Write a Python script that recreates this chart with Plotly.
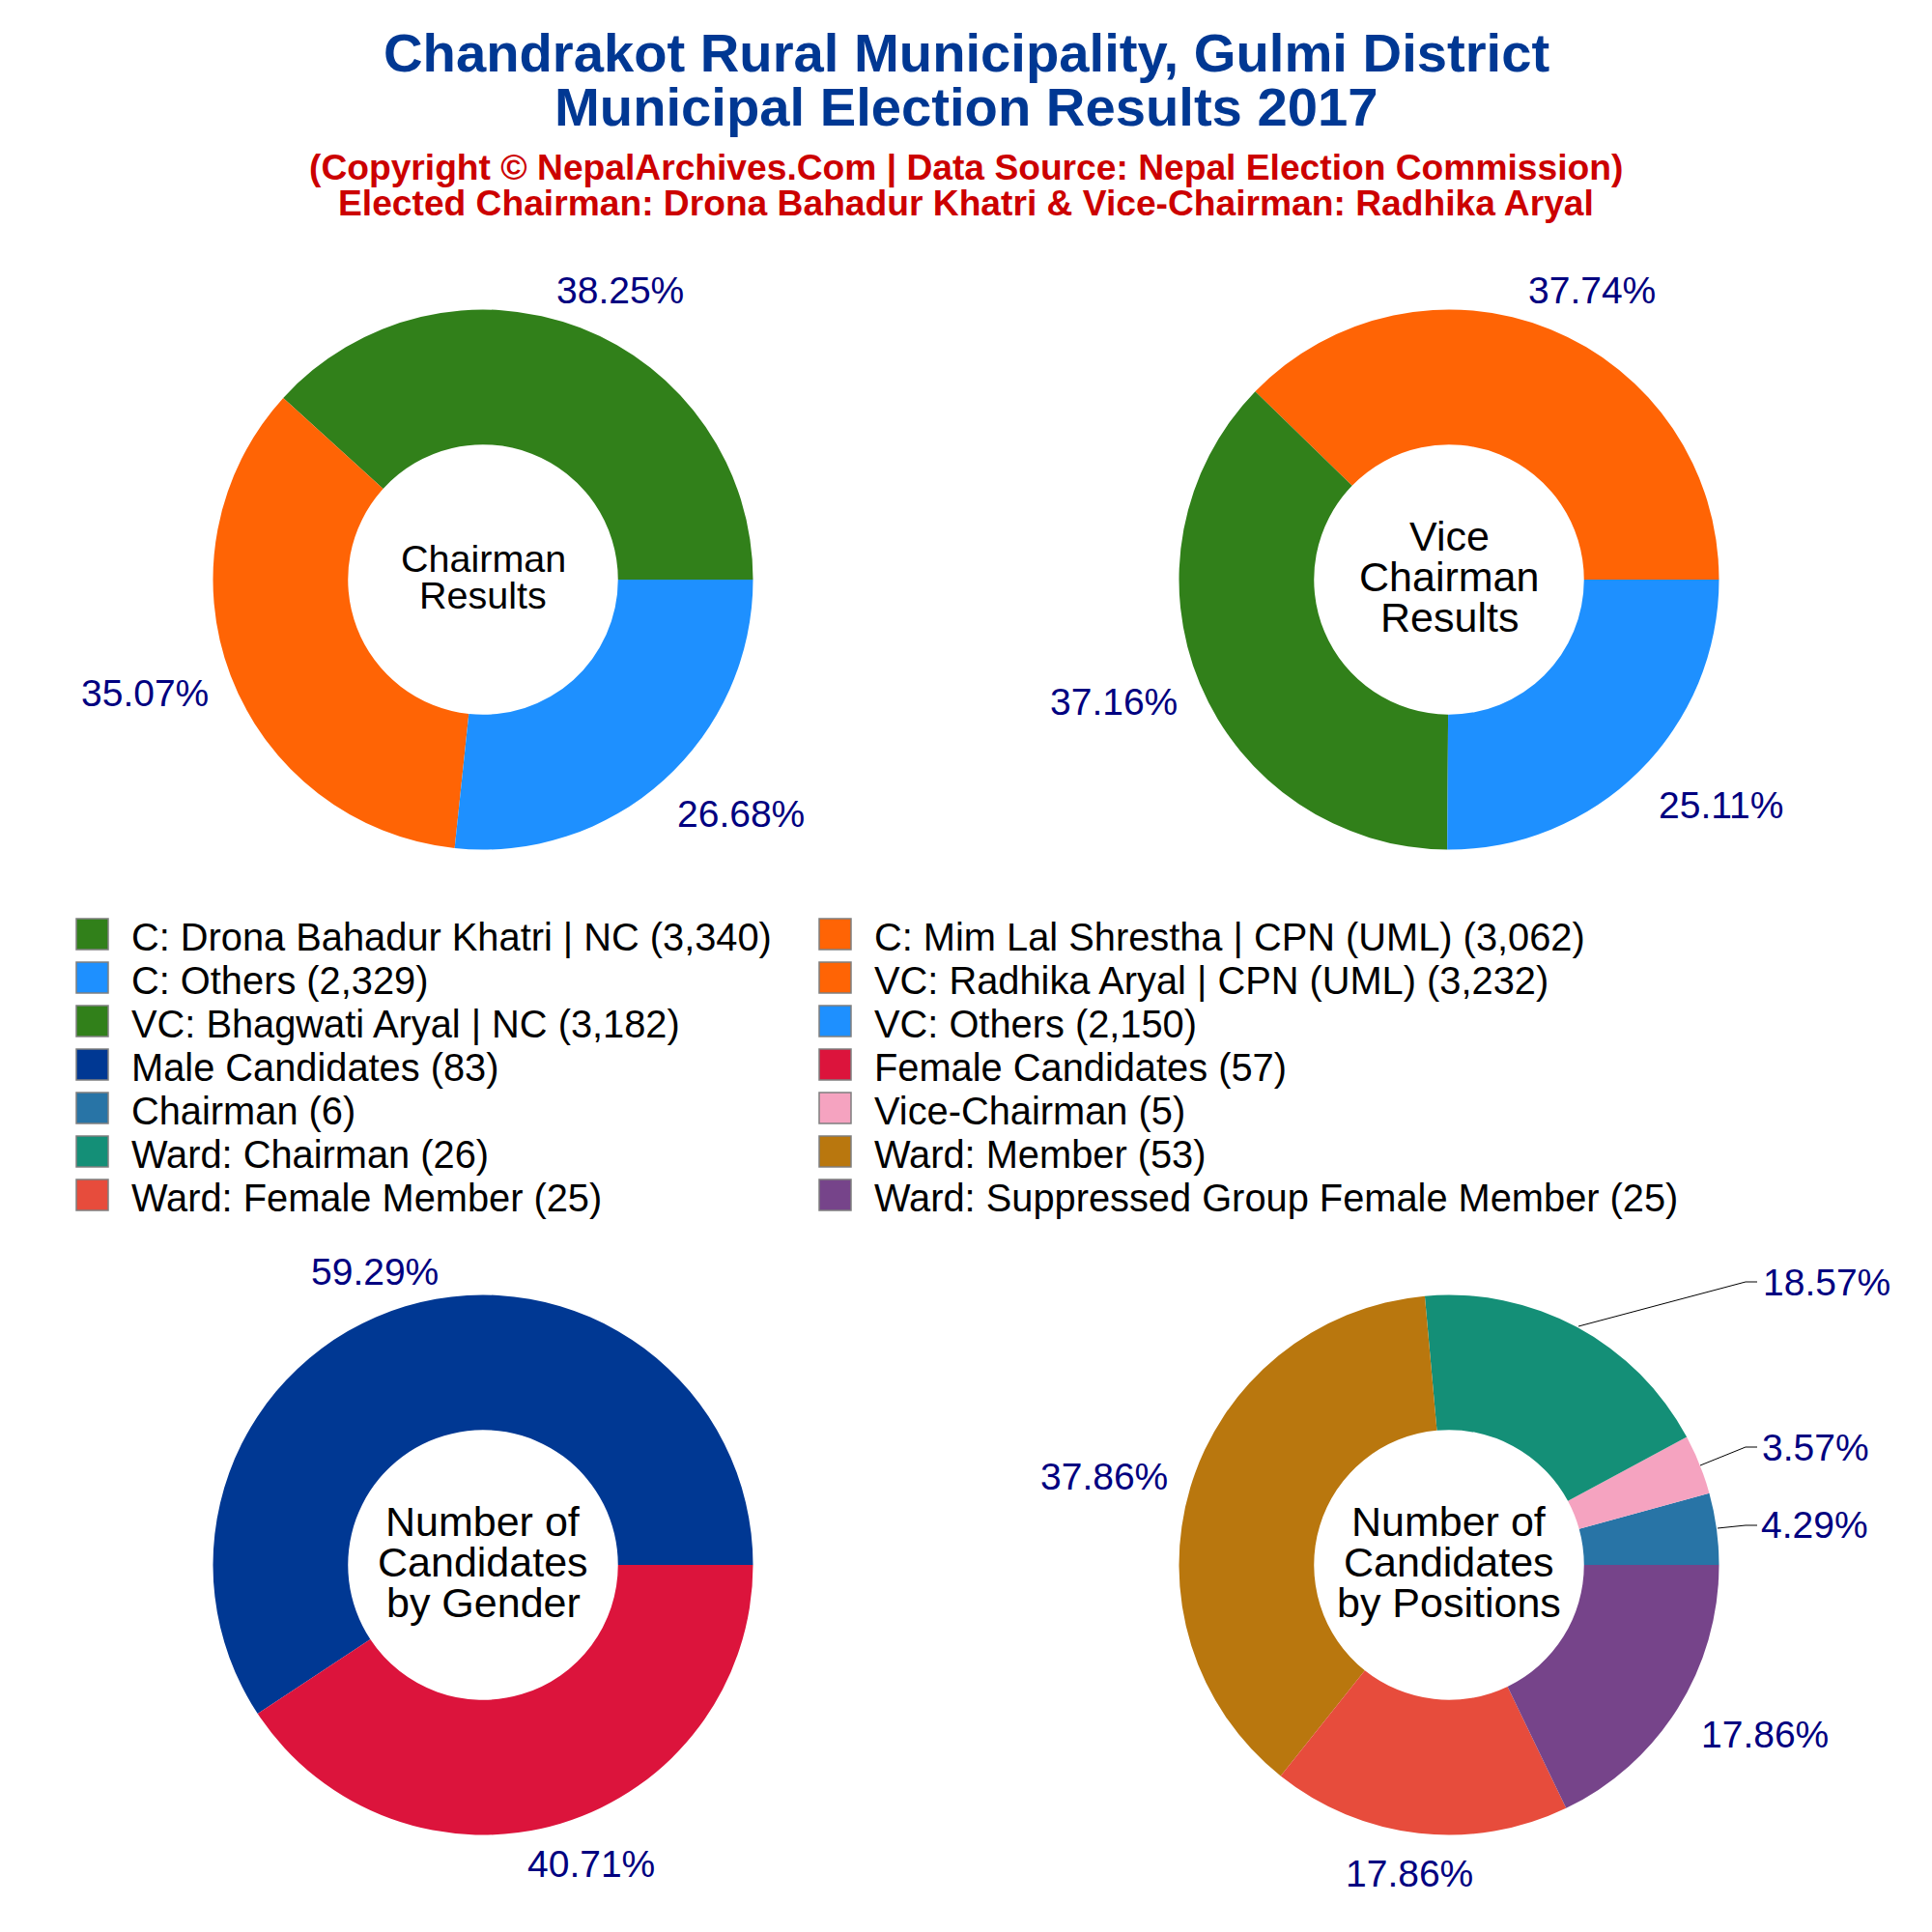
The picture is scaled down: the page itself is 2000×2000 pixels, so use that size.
import plotly.graph_objects as go

# Values for each donut (counter-clockwise from 3 o'clock)
chair_labels = ["C: Drona Bahadur Khatri | NC (3,340)", "C: Mim Lal Shrestha | CPN (UML) (3,062)", "C: Others (2,329)"]
chair_values = [3340, 3062, 2329]
chair_colors = ["#31801A", "#FF6405", "#1E90FF"]

vice_labels = ["VC: Radhika Aryal | CPN (UML) (3,232)", "VC: Bhagwati Aryal | NC (3,182)", "VC: Others (2,150)"]
vice_values = [3232, 3182, 2150]
vice_colors = ["#FF6405", "#31801A", "#1E90FF"]

gender_labels = ["Male Candidates (83)", "Female Candidates (57)"]
gender_values = [83, 57]
gender_colors = ["#003893", "#DC143C"]

pos_labels = ["Chairman (6)", "Vice-Chairman (5)", "Ward: Chairman (26)", "Ward: Member (53)",
              "Ward: Female Member (25)", "Ward: Suppressed Group Female Member (25)"]
pos_values = [6, 5, 26, 53, 25, 25]
pos_colors = ["#2874A6", "#F5A3C0", "#148F77", "#B9770E", "#E74C3C", "#76448A"]

# Legend rows, left and right column
legend_left = ["C: Drona Bahadur Khatri | NC (3,340)", "C: Others (2,329)", "VC: Bhagwati Aryal | NC (3,182)",
               "Male Candidates (83)", "Chairman (6)", "Ward: Chairman (26)", "Ward: Female Member (25)"]
legend_left_colors = ["#31801A", "#1E90FF", "#31801A", "#003893", "#2874A6", "#148F77", "#E74C3C"]
legend_right = ["C: Mim Lal Shrestha | CPN (UML) (3,062)", "VC: Radhika Aryal | CPN (UML) (3,232)", "VC: Others (2,150)",
                "Female Candidates (57)", "Vice-Chairman (5)", "Ward: Member (53)",
                "Ward: Suppressed Group Female Member (25)"]
legend_right_colors = ["#FF6405", "#FF6405", "#1E90FF", "#DC143C", "#F5A3C0", "#B9770E", "#76448A"]

SIZE = 2000
FONT = "Liberation Sans"
RADIUS = 279.5


def px(x):
    return x / SIZE


def py(y):
    return 1 - y / SIZE


def text(fig, x, y, s, size, color="black", anchor="center", bold=False):
    fig.add_annotation(x=px(x), y=py(y), xref="paper", yref="paper", text=f"<b>{s}</b>" if bold else s,
                       showarrow=False, xanchor=anchor, yanchor="middle",
                       font=dict(family=FONT, size=size, color=color))


def pie(labels, values, colors, cx, cy):
    # plotly ends the first slice on the rotation angle when going counterclockwise,
    # so turn it back by that slice to start it at 3 o'clock
    return go.Pie(labels=labels, values=values, sort=False, direction="counterclockwise",
                  rotation=90 - 360 * values[0] / sum(values),
                  hole=0.5, textinfo="none", showlegend=False,
                  marker=dict(colors=colors, line=dict(width=0)),
                  domain=dict(x=[px(cx - RADIUS), px(cx + RADIUS)], y=[py(cy + RADIUS), py(cy - RADIUS)]))


def pct(values):
    return [f"{v / sum(values) * 100:.2f}%" for v in values]


fig = go.Figure()
fig.add_trace(pie(chair_labels, chair_values, chair_colors, 500, 600))
fig.add_trace(pie(vice_labels, vice_values, vice_colors, 1500, 600))
fig.add_trace(pie(gender_labels, gender_values, gender_colors, 500, 1620))
fig.add_trace(pie(pos_labels, pos_values, pos_colors, 1500, 1620))

# Titles
text(fig, 1000, 55, "Chandrakot Rural Municipality, Gulmi District", 56.2, "#003893", bold=True)
text(fig, 1000, 110, "Municipal Election Results 2017", 56.2, "#003893", bold=True)
text(fig, 1000, 174, "(Copyright © NepalArchives.Com | Data Source: Nepal Election Commission)", 37.2, "#CC0000", bold=True)
text(fig, 1000, 210, "Elected Chairman: Drona Bahadur Khatri &amp; Vice-Chairman: Radhika Aryal", 37.2, "#CC0000", bold=True)

# Text in the holes
for y, s in zip([578, 616], ["Chairman", "Results"]):
    text(fig, 500, y, s, 39.5)
for y, s in zip([555, 597, 639], ["Vice", "Chairman", "Results"]):
    text(fig, 1500, y, s, 43)
for y, s in zip([1575, 1617, 1659], ["Number of", "Candidates", "by Gender"]):
    text(fig, 500, y, s, 43)
for y, s in zip([1575, 1617, 1659], ["Number of", "Candidates", "by Positions"]):
    text(fig, 1500, y, s, 43)

# Percent labels, placed by hand like the original
NAVY = "#000080"
for (x, y), s in zip([(642, 300), (150, 717), (767, 842)], pct(chair_values)):
    text(fig, x, y, s, 39, NAVY)
for (x, y), s in zip([(1648, 301), (1153, 727), (1781, 833)], pct(vice_values)):
    text(fig, x, y, s, 39, NAVY)
for (x, y), s in zip([(388, 1316), (612, 1929)], pct(gender_values)):
    text(fig, x, y, s, 39, NAVY)
pos_xy = [(1878, 1578), (1879, 1498), (1891, 1327), (1143, 1528), (1459, 1939), (1827, 1795)]
for (x, y), s in zip(pos_xy, pct(pos_values)):
    text(fig, x, y, s, 39, NAVY)

# Leader lines on the small slices
for pts in [[(1634, 1373), (1807, 1327), (1819, 1327)],
            [(1760, 1517), (1807, 1498), (1819, 1498)],
            [(1778, 1582), (1807, 1579), (1819, 1579)]]:
    path = "M" + " L".join(f"{px(x)},{py(y)}" for x, y in pts)
    fig.add_shape(type="path", path=path, xref="paper", yref="paper", line=dict(color="black", width=1))

# Legend
for x0, labels, colors in [(79, legend_left, legend_left_colors), (848, legend_right, legend_right_colors)]:
    for i, (s, c) in enumerate(zip(labels, colors)):
        y = 967 + 45 * i
        fig.add_shape(type="rect", xref="paper", yref="paper", x0=px(x0), x1=px(x0 + 33), y0=py(y - 16), y1=py(y + 16),
                      fillcolor=c, line=dict(color="#7F7F7F", width=1.5))
        text(fig, x0 + 55, y + 2.5, s, 39.8, anchor="left")

fig.update_layout(width=SIZE, height=SIZE, margin=dict(l=0, r=0, t=0, b=0), paper_bgcolor="white",
                  plot_bgcolor="white", showlegend=False, font=dict(family=FONT))

# drop the browser's default body margin so the figure sits at the page corner
fig.write_html("out.html", config={"displayModeBar": False}, post_script="document.body.style.margin = '0';")
